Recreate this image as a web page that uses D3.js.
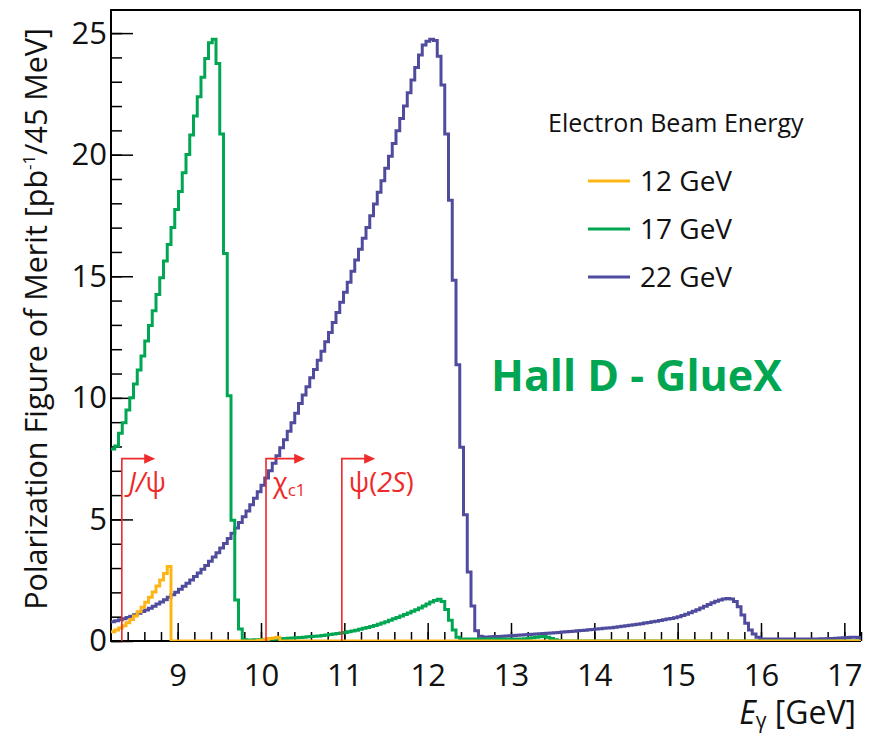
<!DOCTYPE html>
<html>
<head>
<meta charset="utf-8">
<script src="https://cdn.jsdelivr.net/npm/d3@7"></script>
<style>
  body { margin: 0; background: #fff; }
  svg text { font-family: "Open Sans", "Noto Sans", sans-serif; fill: #111; }
</style>
</head>
<body>
<svg id="chart" width="874" height="736"></svg>
<script>
// histogram binning (45 MeV bins)
const binStart = 8.2;
const binWidth = 0.045;
const nBins = 200;

// 12 GeV electron beam
const fom12 = [
  0.38, 0.45, 0.53, 0.63, 0.75, 0.88, 1.03, 1.20, 1.39, 1.59,
  1.80, 2.02, 2.26, 2.51, 2.78, 3.06, 0, 0, 0, 0,
  0, 0, 0, 0, 0, 0, 0, 0, 0, 0,
  0, 0, 0, 0, 0, 0, 0, 0, 0, 0.02,
  0.04, 0.07, 0.10, 0.12, 0.15
];

// 17 GeV electron beam
const fom17 = [
  7.90, 8.02, 8.54, 8.98, 9.50, 10.00, 10.57, 11.14, 11.72, 12.34,
  12.97, 13.58, 14.25, 14.94, 15.63, 16.31, 17.01, 17.75, 18.49, 19.26,
  20.01, 20.81, 21.59, 22.38, 23.18, 23.96, 24.60, 24.75, 23.75, 20.85,
  15.94, 10.09, 4.97, 1.69, 0.49, 0.06, 0.04, 0.04, 0.05, 0.05,
  0.06, 0.06, 0.07, 0.07, 0.08, 0.09, 0.10, 0.11, 0.12, 0.13,
  0.14, 0.15, 0.17, 0.18, 0.20, 0.21, 0.23, 0.25, 0.27, 0.29,
  0.31, 0.33, 0.35, 0.38, 0.41, 0.44, 0.48, 0.52, 0.56, 0.60,
  0.64, 0.69, 0.74, 0.79, 0.85, 0.91, 0.97, 1.03, 1.09, 1.15,
  1.22, 1.29, 1.36, 1.44, 1.52, 1.60, 1.67, 1.72, 1.62, 1.30,
  0.85, 0.45, 0.15, 0.08, 0.08, 0.08, 0.08, 0.08, 0.08, 0.08,
  0.08, 0.08, 0.08, 0.08, 0.08, 0.08, 0.08, 0.08, 0.08, 0.08,
  0.09, 0.11, 0.13, 0.15, 0.17, 0.18, 0.15, 0.10, 0.05, 0.02
];

// 22 GeV electron beam
const fom22 = [
  0.79, 0.83, 0.87, 0.92, 0.97, 1.02, 1.08, 1.14, 1.21, 1.28,
  1.35, 1.43, 1.52, 1.60, 1.70, 1.80, 1.90, 2.01, 2.13, 2.25,
  2.38, 2.51, 2.65, 2.80, 2.95, 3.11, 3.28, 3.45, 3.63, 3.82,
  4.01, 4.22, 4.43, 4.65, 4.87, 5.11, 5.35, 5.60, 5.87, 6.14,
  6.41, 6.70, 7.00, 7.31, 7.62, 7.95, 8.28, 8.63, 8.98, 9.37,
  9.77, 10.12, 10.46, 10.83, 11.17, 11.55, 11.92, 12.31, 12.69, 13.10,
  13.51, 13.93, 14.34, 14.75, 15.21, 15.67, 16.11, 16.56, 17.01, 17.49,
  17.97, 18.45, 18.93, 19.44, 19.94, 20.46, 20.98, 21.49, 22.00, 22.55,
  23.07, 23.59, 24.10, 24.51, 24.66, 24.75, 24.70, 24.05, 22.87, 20.85,
  18.13, 14.84, 11.36, 7.97, 5.19, 2.84, 1.44, 0.42, 0.20, 0.16,
  0.16, 0.17, 0.18, 0.19, 0.20, 0.21, 0.22, 0.23, 0.24, 0.25,
  0.26, 0.27, 0.28, 0.29, 0.30, 0.31, 0.32, 0.33, 0.34, 0.35,
  0.37, 0.38, 0.39, 0.40, 0.42, 0.43, 0.44, 0.46, 0.47, 0.49,
  0.50, 0.52, 0.53, 0.55, 0.57, 0.59, 0.61, 0.63, 0.65, 0.67,
  0.69, 0.71, 0.74, 0.76, 0.79, 0.81, 0.84, 0.87, 0.90, 0.93,
  0.96, 1.00, 1.05, 1.10, 1.16, 1.22, 1.29, 1.36, 1.43, 1.50,
  1.57, 1.63, 1.69, 1.73, 1.75, 1.73, 1.62, 1.41, 1.07, 0.73,
  0.45, 0.29, 0.15, 0.08, 0.08, 0.08, 0.08, 0.08, 0.08, 0.08,
  0.08, 0.08, 0.08, 0.08, 0.08, 0.08, 0.08, 0.08, 0.08, 0.09,
  0.09, 0.10, 0.10, 0.11, 0.12, 0.13, 0.14, 0.15, 0.15, 0.14
];

const seriesLabels = ['12 GeV', '17 GeV', '22 GeV'];
const xTickValues = [9, 10, 11, 12, 13, 14, 15, 16, 17];
const yTickValues = [0, 5, 10, 15, 20, 25];

// production thresholds [GeV], arrow end [GeV], bracket height
const thresholdNames = ['J/ψ', 'χc1', 'ψ(2S)'];
const thresholdE = [8.33, 10.06, 10.97];
const arrowEndE = [8.73, 10.53, 11.37];
const bracketTop = 7.5;

const colors = ['#fdb515', '#00a651', '#4f4b9d'];
const red = '#ee2a2a';

const svg = d3.select('#chart');
const plot = { left: 111, right: 861, top: 10, bottom: 641 };

const x = d3.scaleLinear().domain([8.2, 17.2]).range([plot.left, plot.right]);
const y = d3.scaleLinear().domain([0, 25.95]).range([plot.bottom, plot.top]);

svg.append('defs').append('clipPath').attr('id', 'clip')
  .append('rect')
  .attr('x', plot.left).attr('y', plot.top)
  .attr('width', plot.right - plot.left).attr('height', plot.bottom - plot.top);

// frame
svg.append('rect')
  .attr('x', plot.left).attr('y', plot.top)
  .attr('width', plot.right - 1 - plot.left).attr('height', plot.bottom - plot.top)
  .attr('fill', 'none').attr('stroke', '#000').attr('stroke-width', 2);

// minor ticks
svg.append('g')
  .attr('transform', 'translate(' + plot.left + ',0)')
  .call(d3.axisLeft(y).tickValues(d3.range(0, 26, 1)).tickSize(-11).tickFormat(''))
  .call(g => g.select('.domain').remove())
  .call(g => g.selectAll('line').attr('stroke-width', 1.5));
svg.append('g')
  .attr('transform', 'translate(0,' + plot.bottom + ')')
  .call(d3.axisBottom(x).tickValues(d3.range(8.4, 17.21, 0.2)).tickSize(-9).tickFormat(''))
  .call(g => g.select('.domain').remove())
  .call(g => g.selectAll('line').attr('stroke-width', 1.5));

// major ticks + labels
const gY = svg.append('g')
  .attr('transform', 'translate(' + plot.left + ',0)')
  .call(d3.axisLeft(y).tickValues(yTickValues).tickSize(-22).tickPadding(4))
  .call(g => g.select('.domain').remove());
gY.selectAll('line').attr('stroke-width', 1.5);
gY.selectAll('text').attr('font-size', 31).attr('fill', '#111');

const gX = svg.append('g')
  .attr('transform', 'translate(0,' + plot.bottom + ')')
  .call(d3.axisBottom(x).tickValues(xTickValues).tickSize(-18).tickPadding(23))
  .call(g => g.select('.domain').remove());
gX.selectAll('line').attr('stroke-width', 1.5);
gX.selectAll('text').attr('font-size', 31).attr('fill', '#111');

// histograms
function stepPoints(vals) {
  const full = vals.concat(new Array(Math.max(0, nBins - vals.length)).fill(0));
  const pts = full.map((v, i) => [binStart + i * binWidth, v]);
  pts.push([binStart + full.length * binWidth, full[full.length - 1]]);
  return pts;
}
const line = d3.line()
  .x(d => x(d[0]))
  .y(d => y(d[1]))
  .curve(d3.curveStepAfter);

const hist = svg.append('g').attr('clip-path', 'url(#clip)');
[fom22, fom17, fom12].forEach((vals, k) => {
  hist.append('path')
    .attr('d', line(stepPoints(vals)))
    .attr('fill', 'none')
    .attr('stroke', colors[2 - k])
    .attr('stroke-width', 3)
    .attr('stroke-linejoin', 'miter');
});

// threshold markers
const labelParts = [
  [{ t: 'J', it: true }, { t: '/', it: true }, { t: 'ψ' }],
  [{ t: 'χ' }, { t: 'c1', sub: true }],
  [{ t: 'ψ(' }, { t: '2S', it: true }, { t: ')' }]
];
const ann = svg.append('g');
thresholdE.forEach((e, i) => {
  const x0 = x(e), x1 = x(arrowEndE[i]), yt = y(bracketTop);
  ann.append('path')
    .attr('d', 'M' + x0 + ',' + y(0) + 'V' + yt + 'H' + (x1 - 9))
    .attr('fill', 'none').attr('stroke', red).attr('stroke-width', 1.6);
  ann.append('path')
    .attr('d', 'M' + x1 + ',' + yt + 'L' + (x1 - 11) + ',' + (yt - 5) + 'L' + (x1 - 11) + ',' + (yt + 5) + 'Z')
    .attr('fill', red);
  const t = ann.append('text')
    .attr('x', x0 + 7).attr('y', 492)
    .attr('font-size', 27)
    .style('fill', red);
  labelParts[i].forEach(p => {
    const ts = t.append('tspan').text(p.t).style('fill', red);
    if (p.it) ts.attr('font-style', 'italic');
    if (p.sub) ts.attr('font-size', 17).attr('dy', 4);
  });
});

// legend
const legend = svg.append('g');
legend.append('text')
  .attr('x', 548).attr('y', 132)
  .attr('font-size', 25)
  .text('Electron Beam Energy');
seriesLabels.forEach((s, i) => {
  const cy = 181 + i * 48;
  legend.append('line')
    .attr('x1', 588).attr('x2', 630).attr('y1', cy).attr('y2', cy)
    .attr('stroke', colors[i]).attr('stroke-width', 3);
  legend.append('text')
    .attr('x', 640).attr('y', cy + 10)
    .attr('font-size', 28)
    .text(s);
});

// experiment label
svg.append('text')
  .attr('x', 491).attr('y', 391)
  .attr('font-size', 43).attr('font-weight', 'bold')
  .style('fill', '#00a651')
  .text('Hall D - GlueX');

// axis titles
const xt = svg.append('text')
  .attr('x', 856).attr('y', 724)
  .attr('text-anchor', 'end')
  .attr('font-size', 32);
xt.append('tspan').text('E').attr('font-style', 'italic');
xt.append('tspan').text('γ').attr('font-size', 21).attr('dy', 4);
xt.append('tspan').text(' [GeV]').attr('dy', -4);

const yt = svg.append('text')
  .attr('transform', 'translate(47,28) rotate(-90)')
  .attr('text-anchor', 'end')
  .attr('font-size', 30.5);
yt.append('tspan').text('Polarization Figure of Merit [pb');
yt.append('tspan').text('-1').attr('font-size', 17).attr('dy', -12);
yt.append('tspan').text('/45 MeV]').attr('dy', 12);
</script>
</body>
</html>
